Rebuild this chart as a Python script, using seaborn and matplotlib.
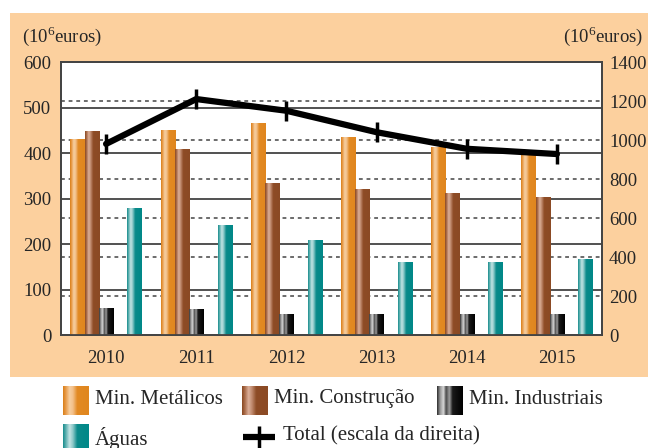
import numpy as np
import pandas as pd
import matplotlib
matplotlib.use('Agg')
import matplotlib.pyplot as plt
import seaborn as sns
from matplotlib.colors import to_rgb
from matplotlib.patches import Rectangle

# %% data
years = ['2010', '2011', '2012', '2013', '2014', '2015']
metalicos = [430, 450, 464, 435, 413, 396]
construcao = [447, 407, 332, 319, 312, 303]
industriais = [59, 57, 46, 46, 46, 44]
aguas = [277, 240, 207, 160, 160, 167]
total = [980, 1210, 1150, 1040, 955, 928]

series = ['Min. Metálicos', 'Min. Construção', 'Min. Industriais', 'gap', 'Águas']
colors = ['#e0861e', '#8b4a24', '#000000', '#ffffff', '#008b8b']
left_ticks = [0, 100, 200, 300, 400, 500, 600]
right_ticks = [0, 200, 400, 600, 800, 1000, 1200, 1400]

# gradient stops for the shaded bars
stops = {
    'Min. Metálicos': [(0, '#d9801a'), (0.1, '#e89a48'), (0.25, '#f6cfa0'), (0.38, '#f3c08a'), (0.55, '#e28a24'), (1, '#e0861e')],
    'Min. Construção': [(0, '#8b4a24'), (0.1, '#a86a48'), (0.25, '#dcb09a'), (0.38, '#c08a6e'), (0.55, '#8e4c26'), (1, '#8b4a24')],
    'Min. Industriais': [(0, '#303030'), (0.12, '#9a9a9a'), (0.25, '#d8d8d8'), (0.35, '#4a4a4a'), (0.48, '#a0a0a0'), (0.6, '#1a1a1a'), (1, '#000000')],
    'Águas': [(0, '#1a8e8e'), (0.1, '#5aaeae'), (0.25, '#c4e4e4'), (0.38, '#8cc8c8'), (0.55, '#0a8a8a'), (1, '#008888')],
}


def grad(st, n=64):
    pos = np.array([s[0] for s in st])
    rgb = np.array([to_rgb(s[1]) for s in st])
    xs = np.linspace(0, 1, n)
    img = np.stack([np.interp(xs, pos, rgb[:, k]) for k in range(3)], axis=-1)
    return img[np.newaxis, :, :]


vals = {'Min. Metálicos': metalicos, 'Min. Construção': construcao,
        'Min. Industriais': industriais, 'gap': [0] * 6, 'Águas': aguas}
df = pd.DataFrame([(y, s, vals[s][i]) for s in series for i, y in enumerate(years)],
                  columns=['year', 'series', 'value'])

# %% figure
sns.set_style('white')
plt.rcParams['font.family'] = ['Liberation Serif', 'DejaVu Serif']
plt.rcParams['mathtext.fontset'] = 'custom'
plt.rcParams['mathtext.rm'] = 'Liberation Serif'

W, H = 648, 448
fig = plt.figure(figsize=(W / 100, H / 100), dpi=100, facecolor='white')
fig.patches.append(Rectangle((10 / W, (H - 377) / H), 638 / W, 364 / H,
                             transform=fig.transFigure, facecolor='#fcd09e',
                             edgecolor='none', zorder=-5))

ax = fig.add_axes([61 / W, (H - 335) / H, 541 / W, 273 / H])
ax.set_facecolor('white')
sns.barplot(data=df, x='year', y='value', hue='series', hue_order=series,
            palette=colors, width=0.79, gap=0, saturation=1, legend=False, ax=ax)

# gradient fill on each bar
for p in ax.patches:
    h = p.get_height()
    if not h or h <= 0:
        continue
    fc = np.array(p.get_facecolor()[:3])
    k = int(np.argmin([np.sum((fc - np.array(to_rgb(c))) ** 2) for c in colors]))
    x0 = p.get_x()
    ax.imshow(grad(stops[series[k]]), extent=[x0, x0 + p.get_width(), 0, h],
              aspect='auto', zorder=3, interpolation='bilinear')
    p.set_visible(False)

# grid: solid on left scale, dashed on right scale
for t in left_ticks[1:-1]:
    ax.axhline(t, color='#222222', lw=1.1, zorder=1)
for t in right_ticks[1:-1]:
    ax.axhline(t * 600 / 1400, color='#444444', lw=1.1, ls=(0, (2.5, 2.5)), zorder=1)

ax.set_xlim(-0.5, 5.5)
ax.set_ylim(0, 600)
ax.set_yticks(left_ticks)
ax.set_xlabel('')
ax.set_ylabel('')
ax.tick_params(axis='both', length=0, labelsize=13.5)
ax.tick_params(axis='y', pad=7)
ax.tick_params(axis='x', pad=11)

ax2 = ax.twinx()
sns.lineplot(x=np.arange(len(years)), y=total, ax=ax2, color='black', lw=4.5,
             marker='|', ms=14, mew=2.5, mec='black', mfc='black', zorder=5)
ax2.set_ylim(0, 1400)
ax2.set_yticks(right_ticks)
ax2.set_xlim(-0.5, 5.5)
ax2.tick_params(axis='y', length=0, labelsize=13.5, pad=5)
ax2.grid(False)

for a in (ax, ax2):
    for s in a.spines.values():
        s.set_visible(True)
        s.set_color('#444444')
        s.set_linewidth(1.3)

fig.text(22 / W, (H - 36) / H, r'(10$^{\mathregular{6}}$euros)', fontsize=13.5, va='center', ha='left')
fig.text(643 / W, (H - 36) / H, r'(10$^{\mathregular{6}}$euros)', fontsize=13.5, va='center', ha='right')

# %% legend (drawn in pixel coordinates below the panel)
lax = fig.add_axes([0, 0, 1, (H - 377) / H])
lax.set_xlim(0, W)
lax.set_ylim(H, 377)
lax.axis('off')

leg_items = [('Min. Metálicos', 63, 386), ('Min. Construção', 242, 386),
             ('Min. Industriais', 437, 386), ('Águas', 63, 425)]
for name, x0, y0 in leg_items:
    lax.imshow(grad(stops[name]), extent=[x0, x0 + 26, y0 + 29, y0],
               aspect='auto', interpolation='bilinear')
    lax.text(x0 + 32, y0 + 13, name, fontsize=15, va='center', ha='left')
lax.plot([243, 275], [437, 437], color='black', lw=4.5, marker='', solid_capstyle='butt')
lax.plot([259], [437], color='black', marker='+', ms=16, mew=2.5)
lax.text(283, 436, 'Total (escala da direita)', fontsize=15, va='center', ha='left')
lax.set_xlim(0, W)
lax.set_ylim(H, 377)

fig.savefig('out.png', dpi=100, facecolor='white')
